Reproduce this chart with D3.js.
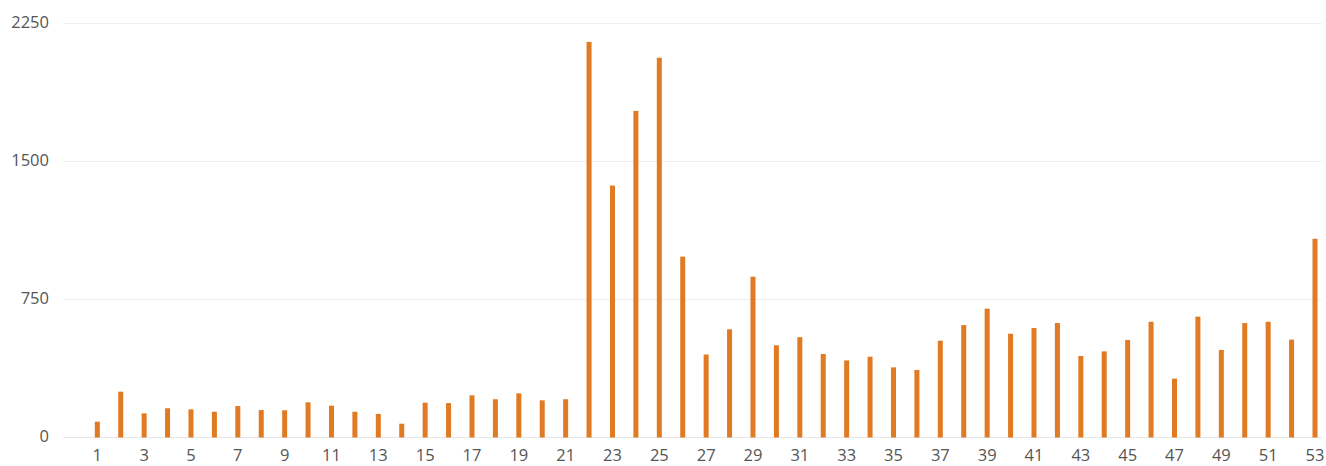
<!DOCTYPE html>
<html><head><meta charset="utf-8">
<script src="https://cdn.jsdelivr.net/npm/d3@7"></script>
<style>
html,body{margin:0;padding:0;background:#fff;}
svg{display:block;font-family:"Open Sans","Noto Sans",sans-serif;}
</style></head>
<body><svg id="chart" width="1326" height="466"></svg>
<script>
const categories = d3.range(1, 54).map(String);
const values = [86,249,131,159,153,140,171,149,148,191,173,140,128,75,189,187,229,208,240,202,208,
  2150,1369,1775,2064,983,451,588,874,501,545,454,419,439,381,367,526,611,700,564,
  595,622,443,468,530,629,320,657,476,622,629,532,1080];
const yTicks = [0,750,1500,2250];
const xTickLabels = categories.filter((d,i)=>i%2===0);

const svg = d3.select("#chart");
const y = d3.scaleLinear().domain([0,2250]).range([437.5,23.5]);
const x = d3.scaleBand().domain(categories).range([85.6,1326.7]).paddingInner(0.786).paddingOuter(0.393);

// gridlines
svg.append("g").selectAll("line").data(yTicks).join("line")
  .attr("x1",63).attr("x2",1322)
  .attr("y1",d=>y(d)).attr("y2",d=>y(d))
  .attr("stroke",d=>d===0?"#e6e6e6":"#efefef").attr("stroke-width",1);

// y labels
svg.append("g").selectAll("text").data(yTicks).join("text")
  .attr("x",49).attr("y",d=>y(d)-1.5).attr("dy","0.35em")
  .attr("text-anchor","end").attr("font-size",16.5).attr("fill","#555555")
  .text(d=>d);

// bars
svg.append("g").selectAll("rect").data(values).join("rect")
  .attr("x",(d,i)=>x(categories[i]))
  .attr("width",x.bandwidth())
  .attr("y",d=>y(d)).attr("height",d=>y(0)-y(d))
  .attr("fill","#E07B24");

// x labels
svg.append("g").selectAll("text").data(xTickLabels).join("text")
  .attr("x",d=>x(d)+x.bandwidth()/2).attr("y",455.5).attr("dy","0.35em")
  .attr("text-anchor","middle").attr("font-size",16.5).attr("fill","#555555")
  .text(d=>d);
</script></body></html>
